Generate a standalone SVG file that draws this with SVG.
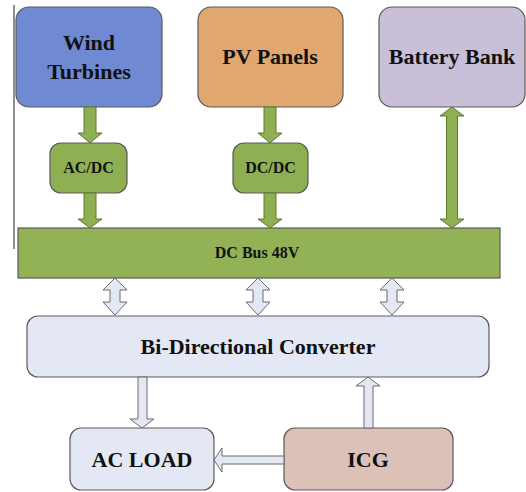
<svg xmlns="http://www.w3.org/2000/svg" width="526" height="492" viewBox="0 0 526 492" font-family="Liberation Serif" font-weight="bold">
<defs>
<style>
.box{stroke:#5a5a5a;stroke-width:1.2}
.ga{fill:#8fb052;stroke:#5e7a2e;stroke-width:1}
.ha{fill:#e4e8f4;stroke:#6a6a6a;stroke-width:1}
</style>
</defs>
<rect width="526" height="492" fill="#ffffff"/>
<line x1="14" y1="5" x2="14" y2="249" stroke="#444" stroke-width="1.2"/>
<g id="wind"><rect class="box" x="16" y="7" width="146" height="100" rx="13" fill="#6f89d2"/><text font-family="Liberation Serif" font-size="22" fill="#111" text-anchor="middle" x="89" y="50">Wind</text><text font-family="Liberation Serif" font-size="22" fill="#111" text-anchor="middle" x="89" y="79">Turbines</text></g>
<g id="pv"><rect class="box" x="198" y="7" width="145" height="100" rx="13" fill="#e0a86f"/><text font-family="Liberation Serif" font-size="22" fill="#111" text-anchor="middle" x="270" y="64">PV Panels</text></g>
<g id="battery"><rect class="box" x="379" y="7" width="146" height="100" rx="13" fill="#c9bfd9"/><text font-family="Liberation Serif" font-size="22" fill="#111" text-anchor="middle" x="452" y="64">Battery Bank</text></g>
<g id="acdc"><rect class="box" x="50" y="143" width="77" height="50" rx="11" fill="#8fb052"/><text font-family="Liberation Serif" font-size="16" fill="#111" text-anchor="middle" x="88.5" y="173">AC/DC</text></g>
<g id="dcdc"><rect class="box" x="233" y="143" width="75" height="50" rx="11" fill="#8fb052"/><text font-family="Liberation Serif" font-size="16" fill="#111" text-anchor="middle" x="270.5" y="173">DC/DC</text></g>
<g id="dcbus"><rect class="box" x="18" y="228" width="482" height="50" fill="#93b155"/><text font-family="Liberation Serif" font-size="16" fill="#111" text-anchor="middle" x="257" y="258">DC Bus 48V</text></g>
<g id="converter"><rect class="box" x="27" y="316" width="462" height="61" rx="11" fill="#e4e8f4"/><text font-family="Liberation Serif" font-size="22" fill="#111" text-anchor="middle" x="258" y="354">Bi-Directional Converter</text></g>
<g id="acload"><rect class="box" x="70" y="428" width="144" height="62" rx="11" fill="#e4e8f4"/><text font-family="Liberation Serif" font-size="22" fill="#111" text-anchor="middle" x="142" y="467">AC LOAD</text></g>
<g id="icg"><rect class="box" x="284" y="428" width="169" height="62" rx="11" fill="#dcc1b9"/><text font-family="Liberation Serif" font-size="22" fill="#111" text-anchor="middle" x="368" y="467">ICG</text></g>
<g id="connectors">
<path class="ga" d="M84,107 H96 V133 H102 L90,143 L78,133 H84 Z"/>
<path class="ga" d="M84,193 H96 V219 H102 L90,228 L78,219 H84 Z"/>
<path class="ga" d="M264,107 H276 V133 H282 L270,143 L258,133 H264 Z"/>
<path class="ga" d="M264,193 H276 V219 H282 L270,228 L258,219 H264 Z"/>
<path class="ga" d="M452,107 L464,116 H457.5 V219 H464 L452,228 L440,219 H446.5 V116 H440 Z"/>
<path class="ha" d="M115,278 L127,290 H120 V302 H127 L115,315 L103,302 H110 V290 H103 Z"/>
<path class="ha" d="M258,278 L270,290 H263 V302 H270 L258,315 L246,302 H253 V290 H246 Z"/>
<path class="ha" d="M392,278 L404,290 H397 V302 H404 L392,315 L380,302 H387 V290 H380 Z"/>
<path class="ha" d="M138,377 H147 V419 H154 L142,428 L130,419 H138 Z"/>
<path class="ha" d="M364,428 V386 H356 L368,377 L380,386 H373 V428 Z"/>
<path class="ha" d="M284,456 H222 V448 L214,460 L222,472 V464 H284 Z"/>
</g>
</svg>
